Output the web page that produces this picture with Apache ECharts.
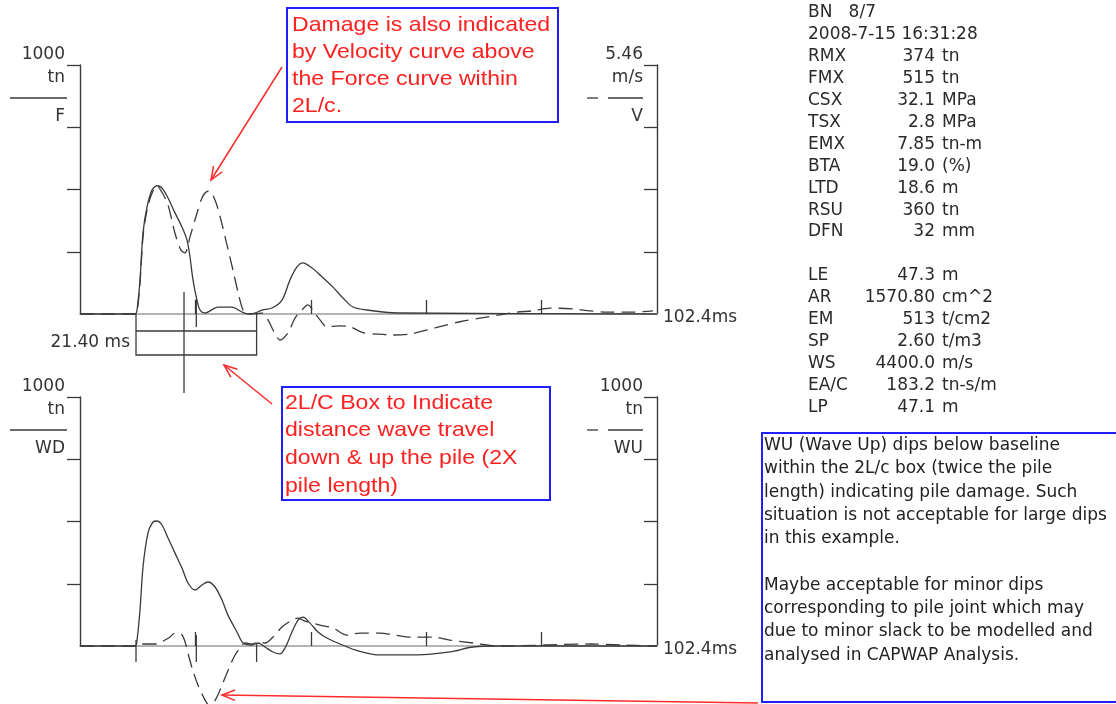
<!DOCTYPE html>
<html>
<head>
<meta charset="utf-8">
<title>PDA record</title>
<script src="https://cdn.jsdelivr.net/npm/echarts@6/dist/echarts.min.js"></script>
<style>
html, body { margin: 0; padding: 0; background: #fff; }
#main { width: 1116px; height: 704px; }
</style>
</head>
<body>
<div id="main"></div>
<script>
var myChart = echarts.init(document.getElementById('main'));

var FONT = '17px "DejaVu Sans"';
var INK = '#3a3a3a';

// time scale (ms)
var timeMax = 102.4;
var timeTicks = [20.48, 40.96, 61.44, 81.92];
var impactMs = 9.94;   // start of 2L/c box
var twoLcMs = 21.40;   // 2L/c
var cursorMs = 18.46;

// top: force F (tn) and velocity V (m/s)
var forceT = [0, 9.76, 10.12, 10.65, 11.18, 11.89, 12.78, 13.66, 14.55, 15.62, 16.86, 18.1, 18.99, 19.52, 20.05, 20.76, 21.3, 22.18, 24.49, 26.97, 28.75, 29.81, 31.06, 32.3, 34.07, 35.85, 37.27, 38.51, 39.57, 41.17, 42.59, 44.9, 46.67, 48.45, 50.93, 53.77, 56.79, 102.4];
var forceTn = [0, 0, 16, 137, 325, 430, 498, 515, 506, 466, 406, 349, 297, 229, 137, 56, 16, 4, 28, 28, 8, 0, 4, 16, 24, 56, 137, 189, 205, 185, 157, 108, 64, 28, 16, 8, 4, 0];

var velT = [0, 9.76, 10.12, 10.65, 11.18, 11.89, 12.78, 13.66, 14.55, 15.62, 16.86, 17.92, 18.63, 19.52, 20.76, 21.83, 22.89, 23.96, 25.02, 26.09, 27.15, 28.04, 28.93, 29.81, 32.3, 33.36, 34.43, 35.49, 36.91, 38.15, 39.4, 40.46, 41.53, 42.59, 43.83, 46.14, 47.91, 50.22, 52.71, 55.55, 58.56, 61.58, 64.42, 67.44, 70.99, 74.53, 77.55, 80.39, 83.41, 87.49, 90.5, 93.52, 98.14, 101.69];
var velMs = [0, 0, 0.04, 0.68, 1.69, 2.28, 2.65, 2.81, 2.67, 2.39, 1.77, 1.40, 1.34, 1.69, 2.21, 2.59, 2.70, 2.50, 2.06, 1.51, 0.96, 0.48, 0.09, 0, 0.02, -0.13, -0.39, -0.57, -0.41, -0.09, 0.09, 0.2, 0.04, -0.13, -0.28, -0.26, -0.28, -0.41, -0.44, -0.46, -0.44, -0.35, -0.26, -0.17, -0.09, -0.02, 0.04, 0.07, 0.13, 0.11, 0.07, 0.04, 0.04, 0.07];

// bottom: wave down WD and wave up WU (tn)
var wdT = [0, 9.76, 10.12, 10.65, 11.18, 12.07, 12.95, 13.66, 14.55, 15.62, 16.86, 18.1, 19.17, 20.41, 21.65, 22.72, 23.96, 25.2, 26.26, 27.86, 28.93, 30.52, 31.59, 32.83, 34.25, 35.49, 36.38, 37.62, 38.69, 39.57, 40.82, 42.24, 43.48, 44.9, 47.03, 48.8, 53.24, 59.8, 65.66, 69.74, 74.53, 102.4];
var wdTn = [0, 0, 24, 145, 317, 454, 498, 502, 486, 434, 373, 313, 253, 225, 245, 257, 237, 185, 124, 56, 12, 4, 12, -4, -24, -32, -8, 56, 104, 116, 92, 56, 36, 20, 0, -16, -36, -36, -24, -4, 0, 0];

var wuT = [0, 9.94, 10.65, 13.66, 15.08, 15.97, 16.86, 18.1, 18.81, 19.34, 20.05, 20.94, 22.01, 22.89, 23.78, 24.85, 26.09, 27.33, 28.39, 29.28, 30.52, 31.59, 32.83, 34.25, 35.85, 37.62, 38.69, 39.93, 42.59, 44.9, 47.38, 49.69, 53.24, 55.9, 58.56, 62.64, 65.66, 69.74, 74.53, 90.5, 95.83, 102.4];
var wuTn = [0, 0, 8, 8, 24, 36, 52, 44, 4, -44, -100, -157, -209, -237, -225, -177, -108, -44, -8, 12, 8, 16, 12, 36, 76, 104, 112, 100, 84, 72, 44, 52, 52, 44, 36, 36, 24, 12, 0, 8, 4, 0];

// results panel
var statNames = ['RMX', 'FMX', 'CSX', 'TSX', 'EMX', 'BTA', 'LTD', 'RSU', 'DFN', '', 'LE', 'AR', 'EM', 'SP', 'WS', 'EA/C', 'LP'];
var statValues = ['374', '515', '32.1', '2.8', '7.85', '19.0', '18.6', '360', '32', '', '47.3', '1570.80', '513', '2.60', '4400.0', '183.2', '47.1'];
var statUnits = ['tn', 'tn', 'MPa', 'MPa', 'tn-m', '(%)', 'm', 'tn', 'mm', '', 'm', 'cm^2', 't/cm2', 't/m3', 'm/s', 'tn-s/m', 'm'];

var note1 = ['Damage is also indicated', 'by Velocity curve above', 'the Force curve within', '2L/c.'];
var note2 = ['2L/C Box to Indicate', 'distance wave travel', 'down & up the pile (2X', 'pile length)'];
var note3 = ['WU (Wave Up) dips below baseline', 'within the 2L/c box (twice the pile', 'length) indicating pile damage. Such',
	'situation is not acceptable for large dips', 'in this example.', '',
	'Maybe acceptable for minor dips', 'corresponding to pile joint which may',
	'due to minor slack to be modelled and', 'analysed in CAPWAP Analysis.'];

function pairs(t, v) {
	return t.map(function(x, i) { return [x, v[i]]; });
}

function txt(x, y, s, align, font, color) {
	return {
		type: 'text', x: x, y: y, silent: true,
		style: { text: s, align: align || 'left', verticalAlign: 'middle', font: font || FONT, fill: color || '#333' }
	};
}

function seg(x1, y1, x2, y2, color, w) {
	return { type: 'line', silent: true, shape: { x1: x1, y1: y1, x2: x2, y2: y2 }, style: { stroke: color || INK, lineWidth: w || 1.3 } };
}

function arrow(x1, y1, x2, y2) {
	var a = Math.atan2(y2 - y1, x2 - x1), L = 14, s = 0.38;
	return [seg(x1, y1, x2, y2, '#ff2a2a', 1.5), {
		type: 'polyline', silent: true,
		shape: { points: [[x2 - L * Math.cos(a - s), y2 - L * Math.sin(a - s)], [x2, y2], [x2 - L * Math.cos(a + s), y2 - L * Math.sin(a + s)]] },
		style: { stroke: '#ff2a2a', lineWidth: 1.5, fill: null }
	}];
}

function axisStack(xr, yTop, top, unit, name, dashed) {
	var g = [txt(xr, yTop, top, 'right'), txt(xr, yTop + 23, unit, 'right'), txt(xr, yTop + 62, name, 'right')];
	if (dashed) {
		g.push(seg(587, yTop + 43, 598, yTop + 43));
		g.push(seg(608, yTop + 43, xr, yTop + 43));
	} else {
		g.push(seg(10, yTop + 43, xr + 2, yTop + 43));
	}
	return g;
}

var graphics = [];
graphics = graphics.concat(axisStack(65, 55, '1000', 'tn', 'F', false));
graphics = graphics.concat(axisStack(643, 55, '5.46', 'm/s', 'V', true));
graphics = graphics.concat(axisStack(65, 387, '1000', 'tn', 'WD', false));
graphics = graphics.concat(axisStack(643, 387, '1000', 'tn', 'WU', true));

// results panel
graphics.push(txt(808, 13, 'BN   8/7', 'left', FONT, '#2a2a2a'));
graphics.push(txt(808, 35, '2008-7-15 16:31:28', 'left', FONT, '#2a2a2a'));
for (var i = 0; i < statNames.length; i++) {
	if (!statNames[i]) continue;
	var yy = 13 + (i + 2) * 21.9;
	graphics.push(txt(808, yy, statNames[i], 'left', FONT, '#2a2a2a'));
	graphics.push(txt(935, yy, statValues[i], 'right', FONT, '#2a2a2a'));
	graphics.push(txt(942, yy, statUnits[i], 'left', FONT, '#2a2a2a'));
}

// annotation boxes
graphics.push({ type: 'rect', silent: true, shape: { x: 287, y: 8, width: 271, height: 114 }, style: { fill: '#fff', stroke: '#2020ff', lineWidth: 2 } });
graphics.push({ type: 'text', silent: true, x: 292, y: 12, scaleX: 1.1,
	style: { text: note1.join('\n'), font: '21px "Liberation Sans"', fill: '#ff2020', lineHeight: 27, verticalAlign: 'top' } });
graphics.push({ type: 'rect', silent: true, shape: { x: 282, y: 387, width: 268, height: 113 }, style: { fill: '#fff', stroke: '#2020ff', lineWidth: 2 } });
graphics.push({ type: 'text', silent: true, x: 285, y: 389, scaleX: 1.1,
	style: { text: note2.join('\n'), font: '21px "Liberation Sans"', fill: '#ff2020', lineHeight: 27.7, verticalAlign: 'top' } });
graphics.push({ type: 'rect', silent: true, shape: { x: 762, y: 433, width: 370, height: 269 }, style: { fill: '#fff', stroke: '#2020ff', lineWidth: 2 } });
graphics.push({ type: 'text', silent: true, x: 764, y: 434,
	style: { text: note3.join('\n'), font: FONT, fill: '#222', lineHeight: 23.3, verticalAlign: 'top' } });

graphics = graphics.concat(arrow(282, 67, 211, 180));
graphics = graphics.concat(arrow(272, 404, 224, 365));
graphics = graphics.concat(arrow(758, 703, 222, 695));

function xAxisCfg(idx) {
	return {
		type: 'value', gridIndex: idx, min: 0, max: timeMax,
		name: '{n|' + timeMax + 'ms}', nameLocation: 'end', nameGap: 6,
		nameTextStyle: {
			fontFamily: 'DejaVu Sans', fontSize: 17, color: '#333', verticalAlign: 'middle',
			rich: { n: { fontFamily: 'DejaVu Sans', fontSize: 17, color: '#333', padding: [8, 0, 0, 0] } }
		},
		axisLine: { onZero: false, lineStyle: { color: '#b4b4b4', width: 2 } },
		axisTick: { show: true, inside: true, length: 14, customValues: timeTicks, lineStyle: { color: INK, width: 1.3 } },
		axisLabel: { show: false },
		splitLine: { show: false }
	};
}

function yAxisCfg(idx, pos, max, inside) {
	var step = max / 4;
	return {
		type: 'value', gridIndex: idx, position: pos, min: 0, max: max, interval: step,
		axisLine: { show: true, lineStyle: { color: INK, width: 1.4 } },
		axisTick: { show: true, inside: inside, length: 13, customValues: [step, step * 2, step * 3, max], lineStyle: { color: INK, width: 1.3 } },
		axisLabel: { show: false },
		splitLine: { show: false }
	};
}

function lineSeries(name, data, xi, yi, dashed) {
	return {
		name: name, type: 'line', xAxisIndex: xi, yAxisIndex: yi, data: data,
		showSymbol: false, symbol: 'none', smooth: 0.3, clip: false, silent: true,
		lineStyle: { color: INK, width: 1.3, type: dashed ? [14, 7] : 'solid' }
	};
}

var option = {
	backgroundColor: '#fff',
	animation: false,
	grid: [
		{ left: 80, top: 65, width: 577, height: 249 },
		{ left: 80, top: 397, width: 577, height: 249 }
	],
	xAxis: [xAxisCfg(0), xAxisCfg(1)],
	yAxis: [
		yAxisCfg(0, 'left', 1000, false),
		yAxisCfg(0, 'right', 5.46, true),
		yAxisCfg(1, 'left', 1000, false),
		yAxisCfg(1, 'right', 1000, true)
	],
	graphic: graphics,
	series: [
		lineSeries('F', pairs(forceT, forceTn), 0, 0, false),
		lineSeries('V', pairs(velT, velMs), 0, 1, true),
		lineSeries('WD', pairs(wdT, wdTn), 1, 2, false),
		lineSeries('WU', pairs(wuT, wuTn), 1, 3, true),
		{
			// 2L/c box and cursor, top plot
			type: 'custom', xAxisIndex: 0, yAxisIndex: 0, clip: false, silent: true,
			data: [[impactMs, impactMs + twoLcMs, cursorMs]],
			renderItem: function(params, api) {
				var a = api.coord([api.value(0), 0]);
				var b = api.coord([api.value(1), 0]);
				var m = api.coord([(api.value(0) + api.value(1)) / 2, 0]);
				var c = api.coord([api.value(2), 0]);
				var base = a[1];
				var st = { stroke: INK, lineWidth: 1.3 };
				return {
					type: 'group', children: [
						{ type: 'line', shape: { x1: a[0], y1: base, x2: a[0], y2: base + 17 }, style: st },
						{ type: 'line', shape: { x1: b[0], y1: base, x2: b[0], y2: base + 17 }, style: st },
						{ type: 'rect', shape: { x: a[0], y: base + 17, width: b[0] - a[0], height: 24 }, style: { stroke: INK, lineWidth: 1.3, fill: 'none' } },
						{ type: 'line', shape: { x1: m[0], y1: base - 15, x2: m[0], y2: base + 13 }, style: st },
						{ type: 'line', shape: { x1: c[0], y1: base - 22, x2: c[0], y2: base + 79 }, style: st },
						{ type: 'text', x: a[0] - 6, y: base + 29, style: { text: twoLcMs.toFixed(2) + ' ms', align: 'right', verticalAlign: 'middle', font: FONT, fill: '#333' } }
					]
				};
			}
		},
		{
			// 2L/c markers, bottom plot
			type: 'custom', xAxisIndex: 1, yAxisIndex: 2, clip: false, silent: true,
			data: [[impactMs, impactMs + twoLcMs]],
			renderItem: function(params, api) {
				var a = api.coord([api.value(0), 0]);
				var b = api.coord([api.value(1), 0]);
				var m = api.coord([(api.value(0) + api.value(1)) / 2, 0]);
				var base = a[1];
				var st = { stroke: INK, lineWidth: 1.3 };
				return {
					type: 'group', children: [
						{ type: 'line', shape: { x1: a[0], y1: base - 6, x2: a[0], y2: base + 16 }, style: st },
						{ type: 'line', shape: { x1: m[0], y1: base - 11, x2: m[0], y2: base + 16 }, style: st },
						{ type: 'line', shape: { x1: b[0], y1: base - 2, x2: b[0], y2: base + 16 }, style: st }
					]
				};
			}
		}
	]
};

myChart.setOption(option);
</script>
</body>
</html>
